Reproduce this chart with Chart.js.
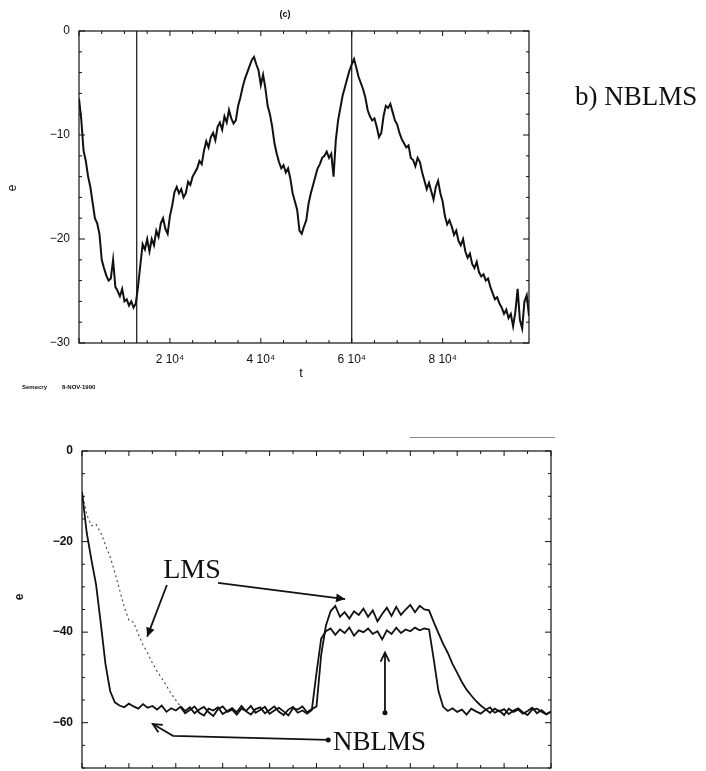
<!DOCTYPE html>
<html lang="en">
<head>
<meta charset="UTF-8">
<title>NBLMS</title>
<script src="https://cdn.jsdelivr.net/npm/chart.js"></script>
<style>
  html, body { margin: 0; padding: 0; background: #fff; width: 706px; height: 771px; overflow: hidden; }
  canvas { position: absolute; left: 0; }
  #topChart { top: 0; }
  #bottomChart { top: 390px; }
  .note { position: absolute; font-family: "Liberation Serif", serif; color: #111; white-space: nowrap; line-height: 1; }
  .stamp { position: absolute; font-family: "Liberation Sans", sans-serif; font-weight: bold; font-size: 6px; color: #111; }
  .scratch { position: absolute; left: 410px; top: 437px; width: 145px; height: 1px; background: #888; }
</style>
</head>
<body>
<canvas id="topChart" width="706" height="390"></canvas>
<canvas id="bottomChart" width="706" height="420"></canvas>
<div class="note" style="left:575px; top:83px; font-size:27px;">b) NBLMS</div>
<div class="stamp" style="left:22px; top:384px;">Semecry</div>
<div class="stamp" style="left:62px; top:384px;">8-NOV-1990</div>
<div class="scratch"></div>
<script>
// ---- top chart (c): NBLMS error vs t (t in thousands) ----
const tTop = [
  0, 0.5, 1, 1.5, 2, 2.5, 3, 3.5, 4, 4.5, 5, 5.5, 6, 6.5, 7, 7.5, 8, 8.5, 9, 9.5,
  10, 10.5, 11, 11.5, 12, 12.5, 13, 13.5, 14, 14.5, 15, 15.5, 16, 16.5, 17, 17.5, 18, 18.5, 19, 19.5,
  20, 20.5, 21, 21.5, 22, 22.5, 23, 23.5, 24, 24.5, 25, 25.5, 26, 26.5, 27, 27.5, 28, 28.5, 29, 29.5,
  30, 30.5, 31, 31.5, 32, 32.5, 33, 33.5, 34, 34.5, 35, 35.5, 36, 36.5, 37, 37.5, 38, 38.5, 39, 39.5,
  40, 40.5, 41, 41.5, 42, 42.5, 43, 43.5, 44, 44.5, 45, 45.5, 46, 46.5, 47, 47.5, 48, 48.5, 49, 49.5,
  50, 50.5, 51, 51.5, 52, 52.5, 53, 53.5, 54, 54.5, 55, 55.5, 56, 56.5, 57, 57.5, 58, 58.5, 59, 59.5,
  60, 60.5, 61, 61.5, 62, 62.5, 63, 63.5, 64, 64.5, 65, 65.5, 66, 66.5, 67, 67.5, 68, 68.5, 69, 69.5,
  70, 70.5, 71, 71.5, 72, 72.5, 73, 73.5, 74, 74.5, 75, 75.5, 76, 76.5, 77, 77.5, 78, 78.5, 79, 79.5,
  80, 80.5, 81, 81.5, 82, 82.5, 83, 83.5, 84, 84.5, 85, 85.5, 86, 86.5, 87, 87.5, 88, 88.5, 89, 89.5,
  90, 90.5, 91, 91.5, 92, 92.5, 93, 93.5, 94, 94.5, 95, 95.5, 96, 96.5, 97, 97.5, 98, 98.5, 99
];
const eTop = [
  -6.5, -8.5, -11.5, -12.5, -14, -15, -16.5, -18, -18.5, -19.5, -22, -22.8, -23.5, -24, -23.8, -22, -24.6, -25, -25.5, -24.8,
  -26, -25.8, -26.4, -26, -26.6, -26.2, -24.5, -22.5, -20.5, -21, -20, -21.2, -20, -20.6, -19.2, -19.8, -18.5, -18, -19, -19.5,
  -17.8, -16.8, -15.5, -15, -15.6, -15.2, -16, -15.6, -14.5, -14.8, -14, -13.6, -13.2, -12.5, -12.8, -11.5, -10.6, -11.2, -10.2, -9.8,
  -10.5, -9.2, -8.8, -9.5, -8.2, -8.8, -7.6, -8.4, -8.9, -8.6, -7.2, -6.4, -5.4, -4.6, -4, -3.4, -2.8, -2.5, -3.2, -3.8,
  -5.2, -4.2, -5.5, -7.2, -8, -9.2, -10.8, -11.8, -12.6, -13.2, -12.9, -13.6, -13.2, -14.2, -15.6, -16.4, -17.2, -19.2, -19.5, -18.8,
  -18.2, -16.6, -15.6, -14.8, -14, -13.2, -12.8, -12.2, -12, -11.6, -12.2, -11.8, -14, -10.5, -8.6, -7.4, -6.2, -5.4, -4.6, -3.8,
  -3.2, -2.7, -3.5, -4.4, -5, -5.6, -6.4, -7.6, -8.2, -8.6, -8.4, -9.2, -10.2, -9.8, -8.2, -7.2, -7.4, -7, -7.8, -8.6,
  -9, -9.8, -10.4, -10.8, -11.2, -11, -12.2, -12.4, -13, -12.2, -12.6, -13.6, -14.4, -15.2, -14.6, -15.4, -16.2, -15, -14.4, -15.6,
  -16.4, -17.8, -18.6, -18.2, -18.8, -19.6, -19.2, -20.2, -20.6, -20, -21.2, -21.8, -21.4, -22.4, -22.8, -22.2, -23.2, -23.6, -23.4, -24,
  -23.8, -24.6, -25.2, -25.8, -25.6, -26.2, -26.6, -27.2, -26.8, -27.6, -27.2, -28.4, -27, -24.8, -27.8, -28.6, -26, -25.4, -27.4
];
const switchT = [12.7, 60];        // vertical markers
const topXTicks = [20, 40, 60, 80];
const topYTicks = [-30, -20, -10, 0];

// ---- bottom chart: LMS vs NBLMS ----
const nBottom = [
  0, 10, 20, 30, 40, 50, 60, 70, 80, 90, 100, 110, 120, 130, 140, 150, 160, 170, 180, 190,
  200, 210, 220, 230, 240, 250, 260, 270, 280, 290, 300, 310, 320, 330, 340, 350, 360, 370, 380, 390,
  400, 410, 420, 430, 440, 450, 460, 470, 480, 490, 500, 510, 520, 530, 540, 550, 560, 570, 580, 590,
  600, 610, 620, 630, 640, 650, 660, 670, 680, 690, 700, 710, 720, 730, 740, 750, 760, 770, 780, 790,
  800, 810, 820, 830, 840, 850, 860, 870, 880, 890, 900, 910, 920, 930, 940, 950, 960, 970, 980, 990, 1000
];
const eNblms = [
  -9, -18, -24, -29.5, -38, -47, -53, -55.5,
  -56.2, -56.6, -55.8, -56.4, -56.9, -55.9, -56.7, -56.3, -57.1, -56.2,
  -57.6, -56.8, -57.3, -56.5, -57.9, -57.2, -56.4, -57.8, -58.4, -56.9,
  -57.3, -56.6, -58.1, -57.4, -56.8, -57.7, -56.3, -57.5, -58.2, -57,
  -56.6, -57.9, -57.2, -56.4, -57.6, -58.3, -57.1, -56.5, -57.8, -57.3,
  -58, -57.2, -49,
  -41.4, -39.8, -39.2, -40.6, -39.4, -40.2, -39, -40.8, -39.6, -40, -39.2, -40.4,
  -39.8, -41.6, -39.6, -40.4, -39, -40.2, -39.4, -39.8, -39, -39.6, -39.2, -39.4,
  -46, -53, -56.5,
  -57.4, -56.8, -57.6, -57.1, -58.2, -56.9, -57.5, -58, -57.2, -56.6, -57.8, -57.3,
  -58.3, -56.9, -57.6, -57.1, -58, -57.4, -56.7, -57.9, -57.2, -58.1, -57.6
];
const eLms = [
  -9, -14, -16.5, -16.2, -18, -20.8, -23.4, -26.8, -30.6, -34.4, -37.4, -37.8, -40.4, -42.8, -44.6, -46.8,
  -48.6, -50.2, -51.8, -53.6, -55, -56.4,
  -57.4, -56.6, -57.9, -57.1, -56.5, -57.7, -58.5, -57, -56.4, -57.6, -57.1, -58.2, -56.9, -57.4,
  -56.3, -57.8, -57.2, -56.5, -58, -57.3, -56.7, -57.5, -58.4, -56.8, -57.1, -56.4, -57.7, -57,
  -56.4, -45, -38.6,
  -35.4, -34.2, -36.6, -35.6, -37, -35.4, -36.2, -34.8, -36.6, -35.2, -37.6,
  -36, -34.6, -36.4, -34.4, -36.2, -35, -34, -35.6, -34.2, -35, -35.2,
  -37.8, -40.2, -42.6, -44.6, -47, -49, -51, -52.7, -54, -55.2, -56.2,
  -57, -57.8, -56.9, -57.5, -57, -58.1, -57.3, -56.8, -57.7, -58.3, -57.1, -56.9, -57.6, -58.2, -57.5
];
const bottomYTicks = [-60, -40, -20, 0];

// annotation arrows, in data units [n, e]
const arrowLms1 = [[181, -29.6], [139, -41]];
const arrowLms2 = [[290, -29.1], [561, -32.7]];
const arrowNblmsUp = [[646, -57.8], [646, -44.5]];
const arrowNblmsLeft = [[525, -63.8], [194, -62.9], [151, -60.3]];

const ink = '#111';

function toPoints(xs, ys) {
  return xs.map(function (x, i) { return { x: x, y: ys[i] }; });
}

// ticks drawn inward on all four sides + frame
function drawFrame(chart, o) {
  const ctx = chart.ctx, a = chart.chartArea, x = chart.scales.x, y = chart.scales.y;
  ctx.save();
  ctx.strokeStyle = ink;
  ctx.lineWidth = 1.2;
  ctx.strokeRect(a.left, a.top, a.right - a.left, a.bottom - a.top);
  ctx.lineWidth = 1;
  ctx.beginPath();
  for (let v = x.min; v <= x.max + 1e-9; v += o.xStep) {
    const px = x.getPixelForValue(v);
    const len = Math.abs(v % o.xMajor) < 1e-6 ? 5 : 3;
    ctx.moveTo(px, a.bottom); ctx.lineTo(px, a.bottom - len);
    ctx.moveTo(px, a.top); ctx.lineTo(px, a.top + len);
  }
  for (let v = y.min; v <= y.max + 1e-9; v += o.yStep) {
    const py = y.getPixelForValue(v);
    const len = Math.abs(v % o.yMajor) < 1e-6 ? 6 : 3;
    ctx.moveTo(a.left, py); ctx.lineTo(a.left + len, py);
    ctx.moveTo(a.right, py); ctx.lineTo(a.right - len, py);
  }
  ctx.stroke();
  ctx.restore();
}

function drawArrow(chart, pts, filled, dotStart) {
  const ctx = chart.ctx, x = chart.scales.x, y = chart.scales.y;
  const px = pts.map(function (p) { return [x.getPixelForValue(p[0]), y.getPixelForValue(p[1])]; });
  ctx.save();
  ctx.strokeStyle = ink;
  ctx.fillStyle = ink;
  ctx.lineWidth = 1.8;
  ctx.beginPath();
  ctx.moveTo(px[0][0], px[0][1]);
  for (let i = 1; i < px.length; i++) ctx.lineTo(px[i][0], px[i][1]);
  ctx.stroke();
  const end = px[px.length - 1], prev = px[px.length - 2];
  const ang = Math.atan2(end[1] - prev[1], end[0] - prev[0]);
  const h = 10, w = 0.45;
  ctx.beginPath();
  ctx.moveTo(end[0] - h * Math.cos(ang - w), end[1] - h * Math.sin(ang - w));
  ctx.lineTo(end[0], end[1]);
  ctx.lineTo(end[0] - h * Math.cos(ang + w), end[1] - h * Math.sin(ang + w));
  if (filled) { ctx.closePath(); ctx.fill(); } else { ctx.stroke(); }
  if (dotStart) {
    ctx.beginPath();
    ctx.arc(px[0][0], px[0][1], 2.5, 0, Math.PI * 2);
    ctx.fill();
  }
  ctx.restore();
}

const topDecor = {
  id: 'topDecor',
  afterDraw(chart) {
    drawFrame(chart, { xStep: 5, xMajor: 20, yStep: 2, yMajor: 10 });
    const ctx = chart.ctx, a = chart.chartArea;
    ctx.save();
    ctx.fillStyle = ink;
    ctx.textAlign = 'center';
    ctx.textBaseline = 'middle';
    ctx.font = 'bold 9px "Liberation Sans", sans-serif';
    ctx.fillText('(c)', 285, 15);
    ctx.font = '13px "Liberation Sans", sans-serif';
    ctx.fillText('t', (a.left + a.right) / 2 - 3, 373);
    ctx.translate(13, 188);
    ctx.rotate(-Math.PI / 2);
    ctx.font = '12px "Liberation Sans", sans-serif';
    ctx.fillText('e', 0, 0);
    ctx.restore();
  }
};

const bottomDecor = {
  id: 'bottomDecor',
  afterDraw(chart) {
    drawFrame(chart, { xStep: 50, xMajor: 100, yStep: 5, yMajor: 20 });
    drawArrow(chart, arrowLms1, true, false);
    drawArrow(chart, arrowLms2, true, false);
    drawArrow(chart, arrowNblmsUp, false, true);
    drawArrow(chart, arrowNblmsLeft, false, true);
    const ctx = chart.ctx, x = chart.scales.x, y = chart.scales.y;
    ctx.save();
    ctx.fillStyle = ink;
    ctx.textBaseline = 'alphabetic';
    ctx.font = '28px "Liberation Serif", serif';
    ctx.fillText('LMS', x.getPixelForValue(173), y.getPixelForValue(-28));
    ctx.font = '27px "Liberation Serif", serif';
    ctx.fillText('NBLMS', x.getPixelForValue(535), y.getPixelForValue(-66));
    ctx.translate(20, 207);
    ctx.rotate(-Math.PI / 2);
    ctx.textAlign = 'center';
    ctx.textBaseline = 'middle';
    ctx.font = 'bold 12px "Liberation Sans", sans-serif';
    ctx.fillText('e', 0, 0);
    ctx.restore();
  }
};

const topDatasets = [{
  data: toPoints(tTop, eTop),
  borderColor: ink,
  borderWidth: 2,
  pointRadius: 0,
  tension: 0
}];
switchT.forEach(function (t) {
  topDatasets.push({
    data: toPoints([t, t], [topYTicks[0], topYTicks[topYTicks.length - 1]]),
    borderColor: ink,
    borderWidth: 1.2,
    pointRadius: 0
  });
});

new Chart(document.getElementById('topChart'), {
  type: 'line',
  data: { datasets: topDatasets },
  options: {
    responsive: false,
    animation: false,
    events: [],
    layout: { padding: { top: 31, right: 177, left: 0, bottom: 0 } },
    plugins: { legend: { display: false }, tooltip: { enabled: false } },
    scales: {
      x: {
        type: 'linear', min: 0, max: 99,
        grid: { display: false, drawTicks: false },
        border: { display: false },
        afterBuildTicks: function (s) { s.ticks = topXTicks.map(function (v) { return { value: v }; }); },
        afterFit: function (s) { s.height = 47; },
        ticks: {
          padding: 9, maxRotation: 0, color: ink,
          font: { family: '"Liberation Sans", "DejaVu Sans", sans-serif', size: 12 },
          callback: function (v) { return (v / 10) + ' 10\u2074'; }
        }
      },
      y: {
        type: 'linear', min: -30, max: 0,
        grid: { display: false, drawTicks: false },
        border: { display: false },
        afterBuildTicks: function (s) { s.ticks = topYTicks.map(function (v) { return { value: v }; }); },
        afterFit: function (s) { s.width = 79; },
        ticks: {
          padding: 9, color: ink,
          font: { family: '"Liberation Sans", sans-serif', size: 12 },
          callback: function (v) { return v === 0 ? '0' : '\u2212' + Math.abs(v); }
        }
      }
    }
  },
  plugins: [topDecor]
});

new Chart(document.getElementById('bottomChart'), {
  type: 'line',
  data: {
    datasets: [{
      label: 'NBLMS',
      data: toPoints(nBottom, eNblms),
      borderColor: ink,
      borderWidth: 1.8,
      pointRadius: 0,
      tension: 0
    }, {
      label: 'LMS',
      data: toPoints(nBottom, eLms),
      borderColor: ink,
      borderWidth: 1.8,
      pointRadius: 0,
      tension: 0,
      segment: {
        borderDash: function (c) { return c.p0.parsed.x < 210 ? [2, 3] : undefined; },
        borderWidth: function (c) { return c.p0.parsed.x < 210 ? 1.1 : undefined; },
        borderColor: function (c) { return c.p0.parsed.x < 210 ? '#444' : undefined; }
      }
    }]
  },
  options: {
    responsive: false,
    animation: false,
    events: [],
    layout: { padding: { top: 61, right: 155, left: 0, bottom: 0 } },
    plugins: { legend: { display: false }, tooltip: { enabled: false } },
    scales: {
      x: {
        type: 'linear', min: 0, max: 1000,
        grid: { display: false, drawTicks: false },
        border: { display: false },
        afterFit: function (s) { s.height = 42; },
        ticks: { display: false }
      },
      y: {
        type: 'linear', min: -70, max: 0,
        grid: { display: false, drawTicks: false },
        border: { display: false },
        afterBuildTicks: function (s) { s.ticks = bottomYTicks.map(function (v) { return { value: v }; }); },
        afterFit: function (s) { s.width = 82; },
        ticks: {
          padding: 9, color: ink,
          font: { family: '"Liberation Sans", sans-serif', size: 12, weight: 'bold' },
          callback: function (v) { return v === 0 ? '0' : '\u2212' + Math.abs(v); }
        }
      }
    }
  },
  plugins: [bottomDecor]
});
</script>
</body>
</html>
